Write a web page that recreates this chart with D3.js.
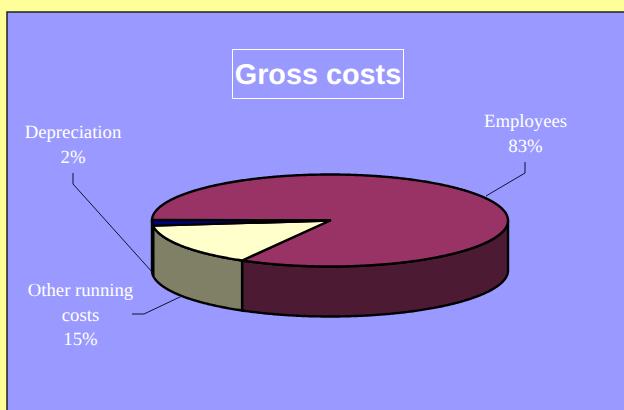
<!DOCTYPE html>
<html>
<head>
<meta charset="utf-8">
<script src="https://cdn.jsdelivr.net/npm/d3@7"></script>
<style>
html, body { margin: 0; padding: 0; background: #FFFF99; overflow: hidden; }
svg { display: block; }
text { text-rendering: geometricPrecision; }
</style>
</head>
<body>
<svg id="chart" width="624" height="410"></svg>
<script>
// Cost breakdown, in percent
const categories = ["Employees", "Other running costs", "Depreciation"];
const shares = [83, 15, 2];
const topColors = ["#993366", "#FFFFCC", "#000080"];
const wallColors = ["#4D1A33", "#808066", "#000040"];
const title = "Gross costs";
const labelLines = [["Employees", "83%"], ["Other running", "costs", "15%"], ["Depreciation", "2%"]];

const svg = d3.select("#chart");
const cx = 330, cy = 220.5, rx = 178, ry = 46, depth = 50;

// Panel behind the chart
svg.append("rect").attr("x", 7).attr("y", 12).attr("width", 630).attr("height", 410)
  .attr("fill", "#9999FF").attr("stroke", "#222").attr("stroke-width", 1.5);

// Slice angles: first slice begins near the left edge and runs clockwise
const start = 270.8 * Math.PI / 180;
const slices = d3.pie().sort(null).startAngle(start).endAngle(start + 2 * Math.PI)(shares);

const xAt = a => cx + rx * Math.sin(a);
const yAt = a => cy - ry * Math.cos(a);
const line = d3.line();
const arcPoints = (a0, a1) => {
  const n = Math.max(2, Math.ceil(Math.abs(a1 - a0) / 0.01));
  return d3.range(n + 1).map(i => a0 + (a1 - a0) * i / n);
};
const front0 = Math.PI / 2, front1 = 1.5 * Math.PI; // visible front half of the rim

const strokeWidth = 2.4;
const gWalls = svg.append("g"), gTops = svg.append("g");

// Side walls
slices.forEach((d, i) => {
  let segs = [];
  for (const shift of [0, 2 * Math.PI]) {
    const a0 = Math.max(d.startAngle, front0 + shift);
    const a1 = Math.min(d.endAngle, front1 + shift);
    if (a1 > a0) segs.push([a0, a1]);
  }
  segs.forEach(([a0, a1]) => {
    const as = arcPoints(a0, a1);
    const pts = as.map(a => [xAt(a), yAt(a)])
      .concat(as.slice().reverse().map(a => [xAt(a), yAt(a) + depth]));
    gWalls.append("path")
      .attr("d", line(pts) + "Z")
      .attr("fill", wallColors[i])
      .attr("stroke", "#000")
      .attr("stroke-width", strokeWidth)
      .attr("stroke-linejoin", "round");
  });
});

// Top faces
slices.forEach((d, i) => {
  const pts = [[cx, cy]].concat(arcPoints(d.startAngle, d.endAngle).map(a => [xAt(a), yAt(a)]));
  gTops.append("path")
    .attr("d", line(pts) + "Z")
    .attr("fill", topColors[i])
    .attr("stroke", "#000")
    .attr("stroke-width", strokeWidth)
    .attr("stroke-linejoin", "round");
});

// Leader lines
const leaders = [
  [[525, 162], [525, 173], [486, 196]],
  [[132, 314], [144, 314], [182, 296]],
  [[73, 173], [73, 184], [153, 273]]
];
svg.append("g").selectAll("path").data(leaders).join("path")
  .attr("d", d => line(d))
  .attr("fill", "none").attr("stroke", "#111133").attr("stroke-width", 1);

// Slice labels
const labelPos = [[525.5, 127], [80.5, 296], [73, 138]];
labelLines.forEach((lines, i) => {
  const t = svg.append("text")
    .attr("x", labelPos[i][0]).attr("y", labelPos[i][1])
    .attr("text-anchor", "middle")
    .attr("font-family", "'Liberation Serif', serif")
    .attr("font-size", 18.7).attr("fill", "#fff");
  lines.forEach((s, j) => {
    t.append("tspan").attr("x", labelPos[i][0]).attr("dy", j ? 24.5 : 0).text(s);
  });
});

// Title box
svg.append("rect").attr("x", 232.5).attr("y", 49.5).attr("width", 171).attr("height", 49)
  .attr("fill", "none").attr("stroke", "#fff").attr("stroke-width", 1);
svg.append("text").attr("x", 318).attr("y", 83.5)
  .attr("text-anchor", "middle")
  .attr("font-family", "'Liberation Sans', sans-serif")
  .attr("font-weight", "bold").attr("font-size", 28.8).attr("fill", "#fff")
  .text(title);
</script>
</body>
</html>
